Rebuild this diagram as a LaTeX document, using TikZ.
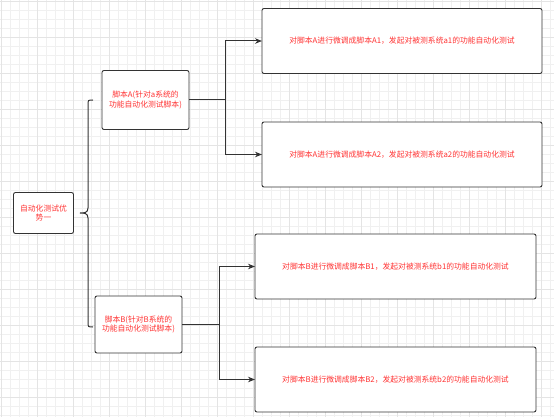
\documentclass[tikz,border=0pt]{standalone}
\usepackage{fontspec}
\setmainfont{Noto Sans CJK SC}
\usetikzlibrary{arrows.meta}
\definecolor{txtred}{HTML}{FF3333}
\definecolor{edge}{HTML}{333333}
\definecolor{gridA}{HTML}{F0F0F0}
\definecolor{gridB}{HTML}{E4E4E4}
\tikzset{
  box/.style={draw=edge, line width=0.9pt, rounded corners=2pt, fill=white,
    text=txtred, font=\fontsize{7.8}{9.5}\selectfont, align=center,
    inner sep=0pt, outer sep=0pt},
  conn/.style={draw=edge, line width=1pt},
  arr/.style={conn, -{Stealth[length=7pt,width=5.5pt]}}
}
\begin{document}
\begin{tikzpicture}[x=1pt,y=-1pt]
\useasboundingbox (0,0) rectangle (554,417);
\fill[white] (0,0) rectangle (554,417);
\foreach \i in {0,...,61} {
  \draw[gridA, line width=0.6pt] (1+9*\i,0) -- (1+9*\i,417);
}
\foreach \i in {0,...,46} {
  \draw[gridA, line width=0.6pt] (0,1+9*\i) -- (554,1+9*\i);
}
\foreach \i in {0,...,15} {
  \draw[gridB, line width=0.6pt] (1+36*\i,0) -- (1+36*\i,417);
}
\foreach \i in {0,...,11} {
  \draw[gridB, line width=0.6pt] (0,1+36*\i) -- (554,1+36*\i);
}

\node[box, minimum width=60pt, minimum height=41pt] (root) at (43.5,213) {自动化测试优\\势一};
\node[box, minimum width=87pt, minimum height=59pt] (A) at (145.5,100) {脚本A(针对a系统的\\功能自动化测试脚本)};
\node[box, minimum width=87pt, minimum height=57pt] (B) at (138.5,324.5) {脚本B(针对B系统的\\功能自动化测试脚本)};
\node[box, minimum width=280pt, minimum height=65pt] (A1) at (402,41) {对脚本A进行微调成脚本A1，发起对被测系统a1的功能自动化测试};
\node[box, minimum width=280pt, minimum height=65pt] (A2) at (402,154.5) {对脚本A进行微调成脚本A2，发起对被测系统a2的功能自动化测试};
\node[box, minimum width=281pt, minimum height=65pt] (B1) at (395.5,266.5) {对脚本B进行微调成脚本B1，发起对被测系统b1的功能自动化测试};
\node[box, minimum width=281pt, minimum height=65pt] (B2) at (395.5,379.5) {对脚本B进行微调成脚本B2，发起对被测系统b2的功能自动化测试};

% brace
\draw[conn] (93,100) .. controls (88,100) and (88,100) .. (88,105) -- (88,208)
  .. controls (88,213) and (84,213) .. (80,213)
  .. controls (84,213) and (88,213) .. (88,218) -- (88,322)
  .. controls (88,327) and (88,327) .. (93,327);

% connectors A
\coordinate (jA) at (225,100);
\draw[conn] (A.east) -- (jA);
\draw[arr] (jA) |- (A1.west);
\draw[arr] (jA) |- (A2.west);
% connectors B
\coordinate (jB) at (219,324.5);
\draw[conn] (B.east) -- (jB);
\draw[arr] (jB) |- (B1.west);
\draw[arr] (jB) |- (B2.west);
\end{tikzpicture}
\end{document}
